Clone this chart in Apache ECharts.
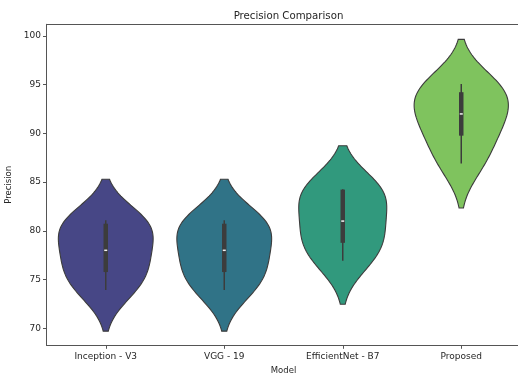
<!DOCTYPE html>
<html>
<head>
<meta charset="utf-8">
<script src="https://cdn.jsdelivr.net/npm/echarts@6/dist/echarts.min.js"></script>
<style>
  html, body { margin: 0; padding: 0; background: #fff; overflow: hidden; width: 518px; height: 374px; }
  /* the axes box runs slightly past the right edge of the window */
  #chart { width: 526px; height: 374px; }
</style>
</head>
<body>
<div id="chart"></div>
<script>
// Model names on the x axis
const models = ['Inception - V3', 'VGG - 19', 'EfficientNet - B7', 'Proposed'];

// Precision scores per model (one sample per run)
const inceptionV3 = [74.0, 76.0, 78.0, 80.5, 81.0];
const vgg19 = [74.0, 76.0, 78.0, 80.5, 81.0];
const efficientNetB7 = [77.0, 79.0, 81.0, 84.0, 84.2];
const proposed = [87.0, 90.0, 92.0, 94.0, 95.0];

// Y axis tick labels
const yTicks = [70, 75, 80, 85, 90, 95, 100];

// Violin fill colours (viridis, slightly muted)
const fills = ['#474786', '#307387', '#31997d', '#7fc35e'];

const samples = [inceptionV3, vgg19, efficientNetB7, proposed];

// --- statistics: gaussian KDE (Scott bandwidth, cut = 2), quartiles ---
function mean(a) { return a.reduce((s, v) => s + v, 0) / a.length; }
function std(a) {
  const m = mean(a);
  return Math.sqrt(a.reduce((s, v) => s + (v - m) * (v - m), 0) / (a.length - 1));
}
function percentile(a, p) {
  const s = a.slice().sort((x, y) => x - y);
  const pos = (s.length - 1) * p;
  const lo = Math.floor(pos), hi = Math.ceil(pos);
  return s[lo] + (s[hi] - s[lo]) * (pos - lo);
}
function kde(a, gridsize, cut) {
  const bw = std(a) * Math.pow(a.length, -1 / 5);
  const lo = Math.min(...a) - cut * bw;
  const hi = Math.max(...a) + cut * bw;
  const ys = [], ds = [];
  for (let k = 0; k < gridsize; k++) {
    const y = lo + (hi - lo) * k / (gridsize - 1);
    let d = 0;
    for (const v of a) {
      const z = (y - v) / bw;
      d += Math.exp(-0.5 * z * z);
    }
    ys.push(y);
    ds.push(d / (a.length * bw * Math.sqrt(2 * Math.PI)));
  }
  return { ys, ds };
}

const violins = samples.map(a => {
  const k = kde(a, 100, 2);
  const q1 = percentile(a, 0.25), q3 = percentile(a, 0.75), med = percentile(a, 0.5);
  const iqr = q3 - q1;
  const sorted = a.slice().sort((x, y) => x - y);
  const wLo = sorted.find(v => v >= q1 - 1.5 * iqr);
  const wHi = sorted.slice().reverse().find(v => v <= q3 + 1.5 * iqr);
  return { ys: k.ys, ds: k.ds, q1, q3, med, wLo, wHi };
});
// area normalisation: the densest violin spans 0.8 of a category
const maxDensity = Math.max(...violins.map(v => Math.max(...v.ds)));

const edgeColor = '#3c3c3c';
const spineColor = '#555555';
const textColor = '#262626';
const font = 'DejaVu Sans';
const boxWidth = 4.5;      // thick IQR bar, projecting caps
const whiskerWidth = 1.5;

function renderViolin(params, api) {
  const i = api.value(0);
  const v = violins[i];
  const band = api.size([1, 0])[0];
  const cx = api.coord([i, v.med])[0];
  const right = [], left = [];
  for (let k = 0; k < v.ys.length; k++) {
    const hw = 0.4 * v.ds[k] / maxDensity * band;
    const py = api.coord([i, v.ys[k]])[1];
    right.push([cx + hw, py]);
    left.push([cx - hw, py]);
  }
  const pts = right.concat(left.reverse());
  const yq1 = api.coord([i, v.q1])[1];
  const yq3 = api.coord([i, v.q3])[1];
  const ymed = api.coord([i, v.med])[1];
  const ylo = api.coord([i, v.wLo])[1];
  const yhi = api.coord([i, v.wHi])[1];
  return {
    type: 'group',
    children: [
      { type: 'polygon', shape: { points: pts }, style: { fill: fills[i], stroke: edgeColor, lineWidth: 1.1 } },
      { type: 'line', shape: { x1: cx, y1: yhi, x2: cx, y2: ylo }, style: { stroke: edgeColor, lineWidth: whiskerWidth, lineCap: 'square' } },
      { type: 'line', shape: { x1: cx, y1: yq3, x2: cx, y2: yq1 }, style: { stroke: edgeColor, lineWidth: boxWidth, lineCap: 'square' } },
      { type: 'rect', shape: { x: cx - 1.5, y: ymed - 0.75, width: 3, height: 1.5 }, style: { fill: '#f4f4f4' } }
    ]
  };
}

const chart = echarts.init(document.getElementById('chart'), null, { renderer: 'canvas' });
chart.setOption({
  animation: false,
  backgroundColor: '#ffffff',
  title: {
    text: 'Precision Comparison',
    left: 283.5, top: 6, textAlign: 'center',
    textStyle: { fontFamily: font, fontSize: 10.2, fontWeight: 'normal', color: textColor }
  },
  grid: { left: 46.5, top: 24.3, width: 474, height: 321, outerBoundsMode: 'none', containLabel: false, show: false },
  xAxis: [{
    type: 'category', data: models, boundaryGap: true,
    name: 'Model', nameLocation: 'middle', nameGap: 20.5,
    nameTextStyle: { fontFamily: font, fontSize: 8.5, color: textColor },
    axisLine: { show: true, lineStyle: { color: spineColor, width: 1 } },
    axisTick: { show: true, alignWithLabel: true, length: 3.5, lineStyle: { color: spineColor } },
    axisLabel: { fontFamily: font, fontSize: 9, color: textColor, margin: 6.5, interval: 0 },
    splitLine: { show: false }
  }, {
    // top spine only
    type: 'category', data: models, position: 'top',
    axisLine: { show: true, lineStyle: { color: spineColor, width: 1 } },
    axisTick: { show: false }, axisLabel: { show: false }, splitLine: { show: false }
  }],
  yAxis: {
    type: 'value', min: 68.25, max: 101.2,
    name: 'Precision', nameLocation: 'middle', nameGap: 22,
    nameTextStyle: { fontFamily: font, fontSize: 8.5, color: textColor },
    axisLine: { show: true, lineStyle: { color: spineColor, width: 1 } },
    axisTick: { show: true, length: 3.5, lineStyle: { color: spineColor }, customValues: yTicks },
    axisLabel: { fontFamily: font, fontSize: 9, color: textColor, margin: 5.5, customValues: yTicks },
    splitLine: { show: false }
  },
  series: [{
    type: 'custom', renderItem: renderViolin, xAxisIndex: 0,
    data: models.map((m, i) => [i]), encode: { x: 0 }, clip: false, z: 3
  }]
});
</script>
</body>
</html>
